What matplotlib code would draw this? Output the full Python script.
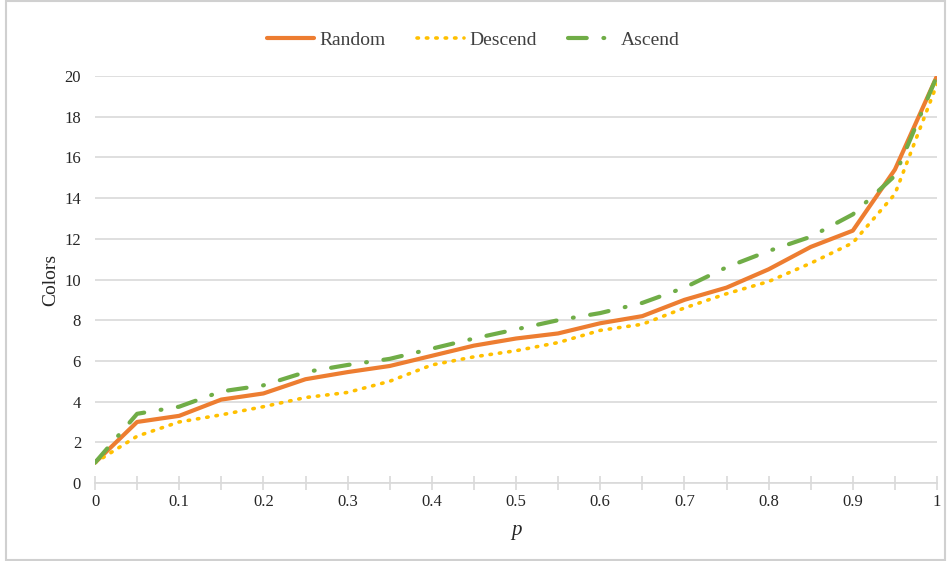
import numpy as np
import matplotlib.pyplot as plt

plt.rcParams['font.family'] = ['Liberation Serif', 'DejaVu Serif']

# данные
p = np.round(np.arange(0, 1.0001, 0.05), 2)
random_c = [1.0, 3.0, 3.3, 4.1, 4.4, 5.1, 5.45, 5.75, 6.25, 6.75, 7.1,
            7.35, 7.85, 8.2, 9.0, 9.6, 10.5, 11.6, 12.4, 15.4, 20.0]
descend_c = [1.0, 2.3, 3.0, 3.35, 3.75, 4.2, 4.45, 5.0, 5.8, 6.2, 6.5,
             6.9, 7.5, 7.8, 8.6, 9.3, 9.9, 10.8, 11.8, 14.2, 19.6]
ascend_c = [1.0, 3.4, 3.75, 4.5, 4.8, 5.45, 5.8, 6.1, 6.6, 7.1, 7.55,
            8.0, 8.35, 8.85, 9.6, 10.6, 11.4, 12.1, 13.2, 15.1, 20.0]
x_labels = ['0', '0.1', '0.2', '0.3', '0.4', '0.5', '0.6', '0.7', '0.8', '0.9', '1']

fig = plt.figure(figsize=(9.47, 5.61), dpi=100)
fig.patches.append(plt.Rectangle((0.006, 0.001), 0.992, 0.998, transform=fig.transFigure,
                                 fill=False, edgecolor='#d0d0d0', linewidth=1.5))
ax = fig.add_axes([95 / 947, 1 - 483 / 561, 842 / 947, 407 / 561])

ax.plot(p, random_c, color='#ED7D31', linewidth=3, label='Random', solid_capstyle='round')
ax.plot(p, descend_c, color='#FFC000', linewidth=2.6, linestyle=(0, (0.4, 2.2)),
        dash_capstyle='round', label='Descend')
ax.plot(p, ascend_c, color='#70AD47', linewidth=3, linestyle=(0, (4.5, 4, 0.2, 4)),
        dash_capstyle='round', label='Ascend')

ax.set_xlim(0, 1)
ax.set_ylim(0, 20)
ax.set_yticks(np.arange(0, 21, 2))
ax.set_xticks(np.arange(0, 1.01, 0.1))
ax.set_xticklabels(x_labels)
ax.set_xticks(p, minor=True)
ax.grid(axis='y', color='#d9d9d9', linewidth=1.2)
ax.set_axisbelow(True)

for s in ['top', 'right', 'left']:
    ax.spines[s].set_visible(False)
ax.spines['bottom'].set_color('#d9d9d9')
ax.spines['bottom'].set_linewidth(1.2)
ax.tick_params(axis='y', length=0, labelsize=12, colors='#262626', pad=10)
ax.tick_params(axis='x', which='both', direction='inout', length=10, width=1.2,
               color='#d9d9d9', labelsize=12, labelcolor='#262626', pad=3)
ax.tick_params(axis='x', which='minor', labelbottom=False)

ax.set_ylabel('Colors', fontsize=14, color='#262626', labelpad=4)
ax.set_xlabel('p', fontsize=15, style='italic', color='#262626', labelpad=8)

fig.legend(loc='upper center', bbox_to_anchor=(0.5, 0.975), ncol=3, frameon=False,
           fontsize=14, handlelength=2.4, columnspacing=1.6, handletextpad=0.3,
           labelcolor='#404040')

fig.savefig('out.png', dpi=100)
